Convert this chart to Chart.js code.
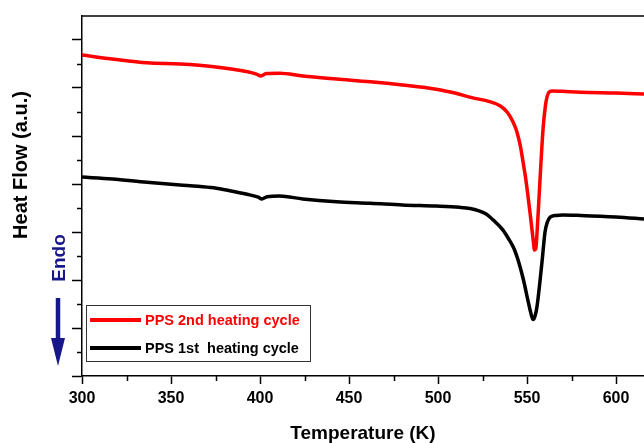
<!DOCTYPE html>
<html>
<head>
<meta charset="utf-8">
<script src="https://cdn.jsdelivr.net/npm/chart.js@4.4.1/dist/chart.umd.min.js"></script>
<style>
html,body{margin:0;padding:0;background:#fff;}
#wrap{width:644px;height:443px;position:relative;}
</style>
</head>
<body>
<div id="wrap"><canvas id="c" width="644" height="443"></canvas></div>
<script>
// ---- data ----
const seriesLabels = ['PPS 2nd heating cycle', 'PPS 1st  heating cycle'];

const temps2nd = [300, 318, 336.5, 355, 374, 393, 398, 400.5, 403.5, 411, 424, 443, 462, 480, 499, 510, 519, 529, 535, 539, 542, 544.4, 546.2, 547.8, 549.3, 550.6, 552, 553.4, 554.2, 554.9, 555.8, 557.3, 559, 560.3, 561.3, 562.3, 564, 570, 580, 600, 616];
const heat2nd  = [13.375, 13.2, 13.05, 13.0, 12.89, 12.68, 12.58, 12.5, 12.6, 12.61, 12.5, 12.375, 12.26, 12.125, 11.95, 11.78, 11.6, 11.43, 11.25, 10.98, 10.6, 10.15, 9.6, 8.9, 8.2, 7.46, 6.6, 5.7, 5.25, 5.3, 6.2, 8.2, 10.3, 11.25, 11.65, 11.82, 11.88, 11.86, 11.82, 11.79, 11.75];

const temps1st = [300, 317, 336.5, 355, 365, 374, 383, 392.7, 399, 401, 404, 411, 424, 443, 462, 480, 499, 512, 518, 523, 527, 531, 536.5, 540, 542.7, 545.5, 548, 550.5, 552.2, 553.4, 554.5, 555.6, 558.4, 560.1, 561.2, 563, 566.3, 570, 580, 600, 616];
const heat1st  = [8.29, 8.21, 8.07, 7.96, 7.91, 7.84, 7.72, 7.57, 7.45, 7.38, 7.47, 7.5, 7.375, 7.26, 7.2, 7.125, 7.08, 7.03, 6.98, 6.88, 6.75, 6.5, 6.08, 5.67, 5.3, 4.7, 4.0, 3.15, 2.6, 2.35, 2.5, 2.9, 4.75, 6.0, 6.37, 6.62, 6.69, 6.71, 6.69, 6.625, 6.54];

const xMin = 300, xMax = 615.7, xStep = 50;
const yMin = 0, yMax = 15, yStep = 2;
const xTitle = 'Temperature (K)';
const yTitle = 'Heat Flow (a.u.)';
const endoLabel = 'Endo';

const FONT = "Arial, 'Liberation Sans', sans-serif";

function pts(xs, ys){ return xs.map((x,i)=>({x:x, y:ys[i]})); }

const decorPlugin = {
  id: 'decor',
  afterDraw(chart){
    const ctx = chart.ctx;
    const ca = chart.chartArea;
    const xs = chart.scales.x, ys = chart.scales.y;
    ctx.save();
    ctx.strokeStyle = '#000';
    ctx.lineWidth = 1.5;
    // top frame line
    ctx.beginPath(); ctx.moveTo(ca.left, ca.top); ctx.lineTo(ca.right, ca.top); ctx.stroke();
    // minor ticks x
    for (let v = xMin + xStep/2; v <= xMax; v += xStep){
      const px = Math.round(xs.getPixelForValue(v)) + 0.5;
      ctx.beginPath(); ctx.moveTo(px, ca.bottom); ctx.lineTo(px, ca.bottom + 5); ctx.stroke();
    }
    // minor ticks y
    for (let v = yMin + yStep/2; v < yMax; v += yStep){
      const py = Math.round(ys.getPixelForValue(v)) + 0.5;
      ctx.beginPath(); ctx.moveTo(ca.left, py); ctx.lineTo(ca.left - 5, py); ctx.stroke();
    }
    // y title
    ctx.fillStyle = '#000';
    ctx.font = 'bold 20px ' + FONT;
    ctx.textAlign = 'center'; ctx.textBaseline = 'middle';
    ctx.save(); ctx.translate(21, 165); ctx.rotate(-Math.PI/2); ctx.fillText(yTitle, 0, 0); ctx.restore();
    // Endo label and arrow
    const navy = '#17178a';
    ctx.fillStyle = navy;
    ctx.font = 'bold 19px ' + FONT;
    ctx.save(); ctx.translate(60, 258); ctx.rotate(-Math.PI/2); ctx.fillText(endoLabel, 0, 0); ctx.restore();
    ctx.strokeStyle = navy; ctx.lineWidth = 4.5;
    ctx.beginPath(); ctx.moveTo(58, 298); ctx.lineTo(58, 344); ctx.stroke();
    ctx.beginPath(); ctx.moveTo(51, 338); ctx.lineTo(65, 338); ctx.lineTo(58, 366); ctx.closePath(); ctx.fill();
    // legend
    ctx.strokeStyle = '#333'; ctx.lineWidth = 1;
    ctx.strokeRect(86.5, 305.5, 224, 56);
    ctx.font = 'bold 14.5px ' + FONT;
    ctx.textAlign = 'left'; ctx.textBaseline = 'middle';
    const rows = [320, 348];
    chart.data.datasets.forEach((ds, i) => {
      const y = rows[i];
      ctx.strokeStyle = ds.borderColor; ctx.lineWidth = 4;
      ctx.beginPath(); ctx.moveTo(90, y); ctx.lineTo(141, y); ctx.stroke();
      ctx.fillStyle = ds.borderColor;
      ctx.fillText(ds.label, 145, y + 1);
    });
    ctx.restore();
  }
};

new Chart(document.getElementById('c'), {
  type: 'line',
  data: {
    datasets: [
      { label: seriesLabels[0], data: pts(temps2nd, heat2nd), borderColor: '#ff0000', borderWidth: 3.5, pointRadius: 0, cubicInterpolationMode: 'monotone', fill: false },
      { label: seriesLabels[1], data: pts(temps1st, heat1st), borderColor: '#000000', borderWidth: 3.5, pointRadius: 0, cubicInterpolationMode: 'monotone', fill: false }
    ]
  },
  options: {
    responsive: false,
    animation: false,
    layout: { padding: { top: 16, left: 0, right: 0, bottom: 0 } },
    plugins: { legend: { display: false }, tooltip: { enabled: false } },
    scales: {
      x: {
        type: 'linear', min: xMin, max: xMax,
        ticks: { stepSize: xStep, includeBounds: false, color: '#000', padding: 5, maxRotation: 0,
                 font: { family: FONT, size: 16, weight: 'bold' } },
        grid: { drawOnChartArea: false, drawTicks: true, tickLength: 8, color: '#000', tickWidth: 1.5 },
        border: { display: true, color: '#000', width: 1.5 },
        title: { display: true, text: xTitle, color: '#000', padding: { top: 0, bottom: 0 },
                 font: { family: FONT, size: 19, weight: 'bold', lineHeight: 1 } },
        afterFit(s){ s.height = 67; }
      },
      y: {
        type: 'linear', min: yMin, max: yMax,
        ticks: { stepSize: yStep, includeBounds: false, display: false },
        grid: { drawOnChartArea: false, drawTicks: true, tickLength: 10, color: '#000', tickWidth: 1.5 },
        border: { display: true, color: '#000', width: 1.5 },
        afterFit(s){ s.width = 82; }
      }
    }
  },
  plugins: [decorPlugin]
});
</script>
</body>
</html>
